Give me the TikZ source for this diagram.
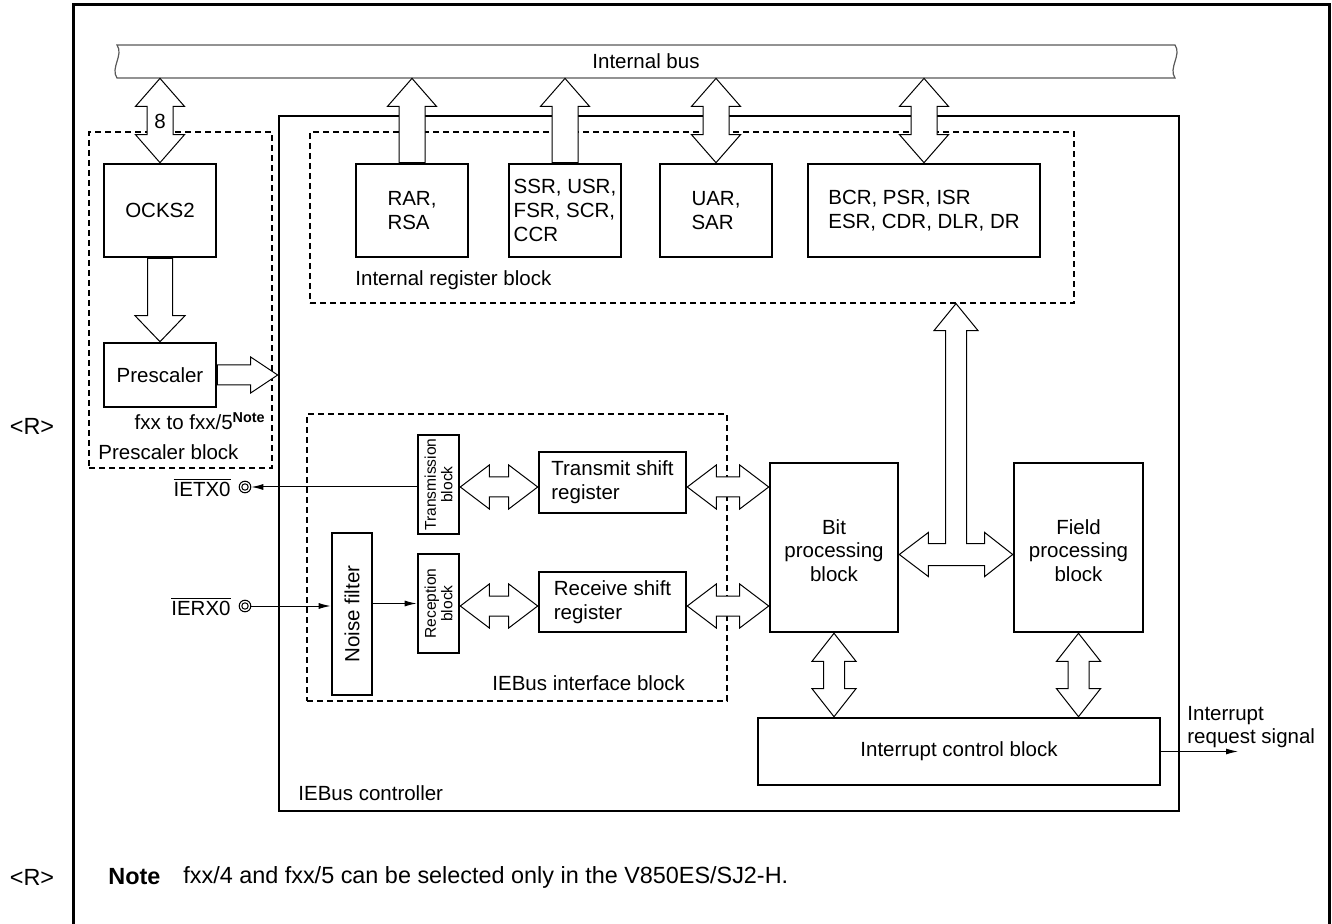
\documentclass[tikz,border=0pt]{standalone}
\usepackage{fontspec}
\setmainfont{Liberation Sans}
\usetikzlibrary{calc,fit,arrows.meta}
\pgfdeclarelayer{bg}
\pgfdeclarelayer{fg}
\pgfsetlayers{bg,main,fg}
\newcommand\mainfs{\fontsize{10.25pt}{11.8pt}\selectfont}
\newcommand\smallfs{\fontsize{7.8pt}{8.3pt}\selectfont}
\newcommand\notefs{\fontsize{11.7pt}{13pt}\selectfont}
\tikzset{
 box/.style={draw, line width=1.3pt, inner sep=0pt},
 dashblk/.style={draw, line width=0.6pt, dash pattern=on 3pt off 2pt, inner sep=0pt},
 fatarrow/.style={draw, fill=white, line width=0.5pt, line join=miter},
 sig/.style={line width=0.5pt, -{Latex[length=6pt,width=3pt]}},
 lbl/.style={inner sep=0pt, font=\mainfs},
 notelbl/.style={inner sep=0pt, font=\notefs},
 pinmark/.style={circle, draw, line width=0.5pt, minimum size=5.8pt, inner sep=0pt,
   path picture={\draw[line width=0.5pt] (path picture bounding box.center) circle (1.6pt);}},
}
\newcommand\FatVBi[4]{\path[fatarrow] let \p1=#1, \p2=#2 in
 (\x1,\y1) -- (\x1+#3,\y1-14pt) -- (\x1+#4,\y1-14pt) -- (\x1+#4,\y2+14pt) -- (\x1+#3,\y2+14pt) -- (\x1,\y2) -- (\x1-#3,\y2+14pt) -- (\x1-#4,\y2+14pt) -- (\x1-#4,\y1-14pt) -- (\x1-#3,\y1-14pt) -- cycle;}
\newcommand\FatVUp[4]{\path[fatarrow] let \p1=#1, \p2=#2 in
 (\x1,\y1) -- (\x1+#3,\y1-14pt) -- (\x1+#4,\y1-14pt) -- (\x1+#4,\y2) -- (\x1-#4,\y2) -- (\x1-#4,\y1-14pt) -- (\x1-#3,\y1-14pt) -- cycle;}
\newcommand\FatVDown[4]{\path[fatarrow] let \p1=#1, \p2=#2 in
 (\x1-#4,\y1) -- (\x1+#4,\y1) -- (\x1+#4,\y2+13pt) -- (\x1+#3,\y2+13pt) -- (\x1,\y2) -- (\x1-#3,\y2+13pt) -- (\x1-#4,\y2+13pt) -- cycle;}
\newcommand\FatHRight[2]{\path[fatarrow] let \p1=#1, \p2=#2 in
 (\x1,\y1+5pt) -- (\x2-13.5pt,\y1+5pt) -- (\x2-13.5pt,\y1+9pt) -- (\x2,\y1) -- (\x2-13.5pt,\y1-9pt) -- (\x2-13.5pt,\y1-5pt) -- (\x1,\y1-5pt) -- cycle;}
\newcommand\FatHBi[2]{\path[fatarrow] let \p1=#1, \p2=#2 in
 (\x1,\y1) -- (\x1+14.5pt,\y1+11pt) -- (\x1+14.5pt,\y1+5pt) -- (\x2-14.5pt,\y1+5pt) -- (\x2-14.5pt,\y1+11pt) -- (\x2,\y1) -- (\x2-14.5pt,\y1-11pt) -- (\x2-14.5pt,\y1-5pt) -- (\x1+14.5pt,\y1-5pt) -- (\x1+14.5pt,\y1-11pt) -- cycle;}
\begin{document}
\begin{tikzpicture}[x=0.5pt,y=-0.5pt]
\useasboundingbox (0,0) rectangle (1332,924);
\begin{pgfonlayer}{bg}
 % outer frame
 \draw[line width=1.5pt] (73,940) -- (73,5) -- (1329,5) -- (1329,940);
 % internal bus
 \draw[line width=0.6pt, draw=black!65, fill=white] (117,45) -- (1175,45)
   .. controls (1182,55) and (1168,68) .. (1175,78) -- (117,78)
   .. controls (110,68) and (124,55) .. (117,45) -- cycle;
 \node[fit={(117,45)(1175,78)}, inner sep=0pt] (bus) {};
 \node[lbl] (bust) at (bus.center) {Internal bus};
 % controller and dashed blocks
 \node[box, fit={(279,116)(1179,811)}] (ctrl) {};
 \node[dashblk, fit={(310,132)(1074,303)}] (irb) {};
 \node[dashblk, fit={(89,132)(272,468)}] (psb) {};
 \node[dashblk, fit={(307,414)(727,701)}] (ifb) {};
\end{pgfonlayer}
\begin{pgfonlayer}{fg}
 \node[box, fit={(104,164)(216,257)}] (ocks) {};
 \node[box, fit={(104,343)(216,407)}] (pre) {};
 \node[box, fit={(356,164)(468,257)}] (rar) {};
 \node[box, fit={(509,164)(621,257)}] (ssr) {};
 \node[box, fit={(660,164)(772,257)}] (uar) {};
 \node[box, fit={(808,164)(1040,257)}] (bcr) {};
 \node[box, fit={(418,435)(459,534)}] (trb) {};
 \node[box, fit={(418,554)(459,653)}] (rcb) {};
 \node[box, fit={(332,533)(372,695)}] (nf) {};
 \node[box, fit={(539,452)(686,513)}] (tsr) {};
 \node[box, fit={(539,572)(686,632)}] (rsr) {};
 \node[box, fit={(770,463)(898,632)}] (bit) {};
 \node[box, fit={(1014,463)(1143,632)}] (fld) {};
 \node[box, fit={(758,718)(1160,785)}] (icb) {};
 \node[lbl] (ockst) at (ocks.center) {OCKS2};
 \node[lbl] (pret) at (pre.center) {Prescaler};
 \node[lbl, align=left] (rart) at (rar.center) {RAR,\\RSA};
 \node[lbl, align=left] (ssrt) at (ssr.center) {SSR, USR,\\FSR, SCR,\\CCR};
 \node[lbl, align=left] (uart) at (uar.center) {UAR,\\SAR};
 \node[lbl, align=left] (bcrt) at (bcr.center) {BCR, PSR, ISR\\ESR, CDR, DLR, DR};
 \node[lbl, align=left] (tsrt) at (tsr.center) {Transmit shift\\register};
 \node[lbl, align=left] (rsrt) at (rsr.center) {Receive shift\\register};
 \node[lbl, align=center] (bitt) at ([yshift=-1.5pt]bit.center) {Bit\\processing\\block};
 \node[lbl, align=center] (fldt) at ([yshift=-1.5pt]fld.center) {Field\\processing\\block};
 \node[lbl] (icbt) at (icb.center) {Interrupt control block};
 \node[lbl, rotate=90, font=\smallfs, align=center] (trbt) at (trb.center) {Transmission\\block};
 \node[lbl, rotate=90, font=\smallfs, align=center] (rcbt) at (rcb.center) {Reception\\block};
 \node[lbl, rotate=90] (nft) at (nf.center) {Noise filter};
\end{pgfonlayer}
% pins
\node[pinmark] (tx) at (245,487) {};
\node[pinmark] (rx) at (245,606) {};
\node[lbl, anchor=east] (txl) at (231,487) {$\overline{\mbox{IETX0}}$};
\node[lbl, anchor=east] (rxl) at (231,606) {$\overline{\mbox{IERX0}}$};
\coordinate (irq) at (1238,753);
% signals
\draw[sig] (trb.west |- tx) -- (tx.east);
\draw[sig] (rx.east) -- (rx -| nf.west);
\draw[sig] (nf.east |- rcb) -- (rcb.west);
\draw[sig] (icb.east) -- (icb.east -| irq);
% fat arrows
\FatVBi{(ocks.north |- bus.south)}{(ocks.north)}{12.25pt}{6.5pt}
\FatVUp{(rar.north |- bus.south)}{(rar.north)}{12.25pt}{6.5pt}
\FatVUp{(ssr.north |- bus.south)}{(ssr.north)}{12.25pt}{6.5pt}
\FatVBi{(uar.north |- bus.south)}{(uar.north)}{12.25pt}{6.5pt}
\FatVBi{(bcr.north |- bus.south)}{(bcr.north)}{12.25pt}{6.5pt}
\FatVDown{(ocks.south)}{(pre.north)}{12.5pt}{6.25pt}
\FatHRight{(pre.east)}{(pre.east -| ctrl.west)}
\FatHBi{(trb.east |- tx)}{(tsr.west |- tx)}
\FatHBi{(rcb.east |- rx)}{(rsr.west |- rx)}
\FatHBi{(tsr.east |- tx)}{(bit.west |- tx)}
\FatHBi{(rsr.east |- rx)}{(bit.west |- rx)}
\FatVBi{(bit.south)}{(bit.south |- icb.north)}{11pt}{5.25pt}
\FatVBi{(fld.south)}{(fld.south |- icb.north)}{11pt}{5.25pt}
% T-shaped arrow: bit <-> field, up to internal register block
\coordinate (tm) at ($(bit.east)!0.5!(fld.west)$);
\path[fatarrow] let \p1=([yshift=-3.5pt]bit.east), \p2=([yshift=-3.5pt]fld.west), \p3=(tm |- irb.south), \p4=(tm) in
 (\x1,\y1) -- (\x1+14.5pt,\y1+11pt) -- (\x1+14.5pt,\y1+5.5pt) -- (\x4-5.25pt,\y1+5.5pt)
 -- (\x4-5.25pt,\y3-13.5pt) -- (\x4-11pt,\y3-13.5pt) -- (\x4,\y3) -- (\x4+11pt,\y3-13.5pt)
 -- (\x4+5.25pt,\y3-13.5pt) -- (\x4+5.25pt,\y1+5.5pt) -- (\x2-14pt,\y1+5.5pt) -- (\x2-14pt,\y1+11pt)
 -- (\x2,\y1) -- (\x2-14pt,\y1-11pt) -- (\x2-14pt,\y1-5.5pt) -- (\x1+14.5pt,\y1-5.5pt)
 -- (\x1+14.5pt,\y1-11pt) -- cycle;
% labels
\node[lbl] (n8) at (160,121) {8};
\node[lbl, anchor=east] (fxx) at (266,421) {fxx to fxx/5\textsuperscript{\bfseries Note}};
\node[lbl, anchor=west] (psbl) at (98,452) {Prescaler block};
\node[lbl, anchor=west] (irbl) at (355,280) {Internal register block};
\node[lbl, anchor=west] (ifbl) at (492,683) {IEBus interface block};
\node[lbl, anchor=west] (ctrll) at (298,793) {IEBus controller};
\node[lbl, anchor=west, align=left] (irql) at (1187,727) {Interrupt\\request signal};
\node[notelbl] (r1) at (32,426) {<R>};
\node[notelbl] (r2) at (32,877) {<R>};
\node[notelbl, anchor=west] (notek) at (108,877) {\bfseries Note};
\node[notelbl, anchor=west] (notet) at (183,877) {fxx/4 and fxx/5 can be selected only in the V850ES/SJ2-H.};
\end{tikzpicture}
\end{document}
